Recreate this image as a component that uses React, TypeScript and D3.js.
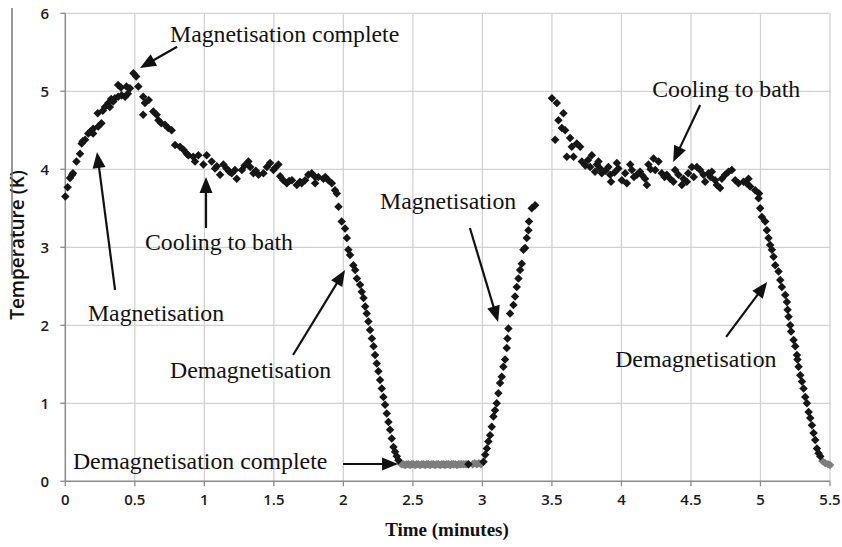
import React from "react";
import * as d3 from "d3";

const W = 842;
const H = 547;

// Time (minutes), Temperature (K)
const magUp: [number, number][] = [
  [0, 3.65], [0.017, 3.77], [0.034, 3.89], [0.05, 3.93], [0.055, 3.95], [0.08, 4.1], [0.106, 4.2],
  [0.118, 4.33], [0.125, 4.36], [0.142, 4.38], [0.165, 4.46], [0.18, 4.48], [0.2, 4.46], [0.2, 4.52],
  [0.233, 4.72], [0.237, 4.55], [0.26, 4.59], [0.27, 4.75], [0.285, 4.8], [0.31, 4.85], [0.32, 4.8],
  [0.33, 4.9], [0.345, 4.87], [0.357, 4.91], [0.38, 4.93], [0.38, 5.08], [0.4, 5.05], [0.405, 4.95],
  [0.43, 4.93], [0.44, 5.06], [0.45, 4.97], [0.465, 5.04], [0.49, 5.23], [0.51, 5.19], [0.525, 5.06],
];

const coolA: [number, number][] = [
  [0.56, 4.93], [0.573, 4.85], [0.56, 4.7], [0.6, 4.89], [0.633, 4.74], [0.657, 4.7], [0.67, 4.63],
  [0.69, 4.59], [0.717, 4.57], [0.74, 4.53], [0.765, 4.5], [0.79, 4.31], [0.825, 4.29], [0.85, 4.25],
  [0.873, 4.2], [0.885, 4.18], [0.92, 4.16], [0.933, 4.1], [0.957, 4.18], [0.993, 4.06], [1.017, 4.18],
  [1.053, 4.1], [1.077, 4.01], [1.09, 4.04], [1.113, 3.93], [1.137, 4.06], [1.16, 4.01], [1.18, 3.97],
  [1.197, 3.95], [1.22, 3.99], [1.233, 3.88], [1.27, 3.99], [1.29, 4.05], [1.317, 4.1], [1.33, 4.03],
  [1.353, 3.95], [1.37, 3.98], [1.39, 3.93], [1.425, 3.95], [1.45, 4.03], [1.473, 4.08], [1.497, 3.99],
  [1.51, 4.02], [1.533, 4.06], [1.545, 3.91], [1.568, 3.86], [1.593, 3.82], [1.61, 3.85], [1.63, 3.86],
  [1.665, 3.8], [1.688, 3.84], [1.7, 3.82], [1.725, 3.86], [1.748, 3.93], [1.772, 3.95], [1.797, 3.9],
  [1.797, 3.82], [1.82, 3.9], [1.856, 3.88], [1.87, 3.9], [1.892, 3.86], [1.917, 3.82], [1.94, 3.73],
];

const demagA: [number, number][] = [
  [1.953, 3.69], [1.965, 3.52], [1.988, 3.33], [2.012, 3.24], [2.025, 3.12], [2.036, 2.97], [2.048, 2.9],
  [2.072, 2.77], [2.085, 2.71], [2.097, 2.6], [2.12, 2.52], [2.132, 2.43], [2.145, 2.35], [2.157, 2.24],
  [2.168, 2.15], [2.18, 2.05], [2.192, 1.94], [2.205, 1.83], [2.217, 1.73], [2.228, 1.62], [2.24, 1.51],
  [2.252, 1.41], [2.264, 1.3], [2.276, 1.19], [2.288, 1.08], [2.3, 0.98], [2.312, 0.87], [2.324, 0.76],
  [2.336, 0.66], [2.348, 0.55], [2.36, 0.44], [2.372, 0.38], [2.384, 0.32], [2.396, 0.27],
];

const flatA: [number, number][] = [
  [2.41, 0.23], [2.42, 0.22], [2.432, 0.22], [2.444, 0.21], [2.456, 0.22], [2.468, 0.22], [2.48, 0.21],
  [2.492, 0.22], [2.504, 0.22], [2.516, 0.21], [2.528, 0.22], [2.54, 0.22], [2.552, 0.21], [2.564, 0.22],
  [2.576, 0.22], [2.588, 0.21], [2.6, 0.22], [2.612, 0.22], [2.624, 0.21], [2.636, 0.22], [2.648, 0.22],
  [2.66, 0.21], [2.672, 0.22], [2.684, 0.22], [2.696, 0.21], [2.708, 0.22], [2.72, 0.22], [2.732, 0.21],
  [2.744, 0.22], [2.756, 0.22], [2.768, 0.21], [2.78, 0.22], [2.792, 0.22], [2.804, 0.22], [2.816, 0.21],
  [2.828, 0.22], [2.84, 0.22], [2.852, 0.22], [2.864, 0.22], [2.876, 0.22], [2.888, 0.22],
  [2.93, 0.22], [2.945, 0.23], [2.96, 0.22], [2.975, 0.23], [2.99, 0.22],
];

const flatBlack: [number, number][] = [[2.9, 0.22]];

const magB: [number, number][] = [
  [3.008, 0.25], [3.02, 0.34], [3.032, 0.42], [3.043, 0.51], [3.055, 0.59], [3.067, 0.7], [3.079, 0.83],
  [3.091, 0.91], [3.103, 1.0], [3.115, 1.13], [3.127, 1.26], [3.139, 1.34], [3.151, 1.47], [3.163, 1.56],
  [3.175, 1.71], [3.18, 1.83], [3.187, 1.96], [3.199, 2.15], [3.223, 2.26], [3.235, 2.37], [3.247, 2.49],
  [3.259, 2.6], [3.271, 2.71], [3.283, 2.79], [3.295, 2.97], [3.307, 2.99], [3.319, 3.12], [3.331, 3.22],
  [3.335, 3.33], [3.355, 3.5], [3.379, 3.54],
];

const coolB: [number, number][] = [
  [3.5, 4.91], [3.523, 4.38], [3.535, 4.85], [3.547, 4.63], [3.571, 4.53], [3.583, 4.72], [3.595, 4.5],
  [3.607, 4.16], [3.631, 4.4], [3.643, 4.29], [3.655, 4.16], [3.679, 4.33], [3.703, 4.29], [3.715, 4.1],
  [3.74, 4.05], [3.76, 4.12], [3.775, 4.03], [3.787, 4.18], [3.81, 3.97], [3.823, 4.06], [3.835, 4.1],
  [3.847, 4.01], [3.859, 3.95], [3.885, 3.98], [3.906, 4.03], [3.919, 3.93], [3.925, 3.84], [3.95, 3.96],
  [3.967, 4.08], [3.978, 4.01], [4.003, 3.86], [4.027, 3.95], [4.039, 3.82], [4.063, 4.06], [4.075, 3.99],
  [4.09, 3.9], [4.111, 3.93], [4.134, 3.97], [4.15, 3.92], [4.17, 3.88], [4.183, 3.8], [4.194, 4.06],
  [4.21, 4.0], [4.231, 4.14], [4.243, 3.99], [4.267, 4.1], [4.29, 3.95], [4.31, 3.9], [4.326, 3.93],
  [4.35, 3.88], [4.374, 3.84], [4.386, 3.99], [4.41, 3.93], [4.434, 3.8], [4.446, 3.88], [4.47, 3.84],
  [4.48, 3.95], [4.506, 4.03], [4.52, 3.9], [4.542, 4.03], [4.566, 3.99], [4.59, 3.93], [4.602, 3.84],
  [4.626, 3.95], [4.64, 3.9], [4.65, 3.97], [4.674, 3.86], [4.686, 3.8], [4.71, 3.76], [4.722, 3.88],
  [4.746, 3.93], [4.77, 3.97], [4.794, 3.99], [4.818, 3.86], [4.842, 3.82], [4.878, 3.84], [4.9, 3.82],
  [4.914, 3.88], [4.926, 3.78],
];

const demagB: [number, number][] = [
  [4.962, 3.73], [4.986, 3.63], [4.99, 3.69], [4.998, 3.5], [5.01, 3.39], [5.034, 3.33], [5.046, 3.22],
  [5.058, 3.12], [5.07, 3.03], [5.082, 2.97], [5.094, 2.88], [5.106, 2.77], [5.13, 2.69], [5.142, 2.58],
  [5.154, 2.49], [5.178, 2.39], [5.19, 2.3], [5.195, 2.2], [5.202, 2.11], [5.214, 2.0], [5.22, 1.92],
  [5.238, 1.81], [5.25, 1.73], [5.262, 1.62], [5.266, 1.56], [5.274, 1.47], [5.286, 1.36], [5.298, 1.28],
  [5.31, 1.19], [5.322, 1.08], [5.334, 1.0], [5.346, 0.89], [5.358, 0.81], [5.37, 0.72], [5.382, 0.62],
  [5.394, 0.53], [5.406, 0.42], [5.418, 0.36], [5.43, 0.32], [5.445, 0.26], [5.466, 0.23], [5.485, 0.22],
  [5.5, 0.21],
];

const xTicks = [0, 0.5, 1, 1.5, 2, 2.5, 3, 3.5, 4, 4.5, 5, 5.5];
const xTickLabels = ["0", "0.5", "1", "1.5", "2", "2.5", "3", "3.5", "4", "4.5", "5", "5.5"];
const yTicks = [0, 1, 2, 3, 4, 5, 6];
const yTickLabels = ["0", "1", "2", "3", "4", "5", "6"];

// annotation label [t, T], arrow start [t, T], arrow tip [t, T]
const annotationTexts = [
  "Magnetisation complete",
  "Magnetisation",
  "Cooling to bath",
  "Demagnetisation",
  "Demagnetisation complete",
  "Magnetisation",
  "Cooling to bath",
  "Demagnetisation",
];
const annotationLabelPos: [number, number][] = [
  [0.753, 5.632], [0.163, 2.055], [0.573, 2.965], [0.753, 1.324],
  [0.055, 0.158], [2.264, 3.491], [4.221, 4.926], [3.955, 1.465],
];
const arrowFrom: [number, number][] = [
  [0.804, 5.571], [0.358, 2.453], [1.012, 3.248], [1.638, 1.619],
  [1.998, 0.222], [2.91, 3.247], [4.566, 4.824], [4.753, 1.851],
];
const arrowTo: [number, number][] = [
  [0.537, 5.3], [0.228, 4.222], [1.012, 3.901], [2.012, 2.709],
  [2.393, 0.222], [3.113, 2.042], [4.372, 4.093], [5.048, 2.556],
];

export default function App() {
  const x = d3.scaleLinear().domain([0, 5.5]).range([65.3, 830]);
  const y = d3.scaleLinear().domain([0, 6]).range([481.3, 13.3]);
  const diamond = d3.symbol().type(d3.symbolDiamond2).size(46)()!;

  const blackPts = [...magUp, ...coolA, ...demagA, ...flatBlack, ...magB, ...coolB, ...demagB.filter((d) => d[1] >= 0.3)];
  const grayPts = [...flatA, ...demagB.filter((d) => d[1] < 0.3)];

  const arrowHead = (from: [number, number], to: [number, number]) => {
    const x1 = x(from[0]), y1 = y(from[1]), x2 = x(to[0]), y2 = y(to[1]);
    const ang = Math.atan2(y2 - y1, x2 - x1);
    const L = 16, hw = 6.5;
    const bx = x2 - L * Math.cos(ang), by = y2 - L * Math.sin(ang);
    const px = -Math.sin(ang) * hw, py = Math.cos(ang) * hw;
    return {
      line: [x1, y1, bx + 2 * Math.cos(ang), by + 2 * Math.sin(ang)],
      head: `M${x2},${y2}L${bx + px},${by + py}L${bx - px},${by - py}Z`,
    };
  };

  const x0 = x(0), x1 = x(5.5), y0 = y(0), y1 = y(6);

  return (
    <svg width={W} height={H} style={{ position: "absolute", left: 0, top: 0, background: "#fff" }}>
      <rect width={W} height={H} fill="#fff" />
      {/* gridlines */}
      {xTicks.filter((t) => t > 0).map((t) => (
        <line key={"gx" + t} x1={x(t)} x2={x(t)} y1={y0} y2={y1} stroke="#d2d2d2" strokeWidth={1.3} />
      ))}
      {yTicks.filter((t) => t > 0).map((t) => (
        <line key={"gy" + t} x1={x0} x2={x1} y1={y(t)} y2={y(t)} stroke="#d2d2d2" strokeWidth={1.3} />
      ))}
      {/* axes */}
      <line x1={x0} x2={x0} y1={y0} y2={y1} stroke="#8a8a8a" strokeWidth={1.5} />
      <line x1={x0} x2={x1} y1={y0} y2={y0} stroke="#8a8a8a" strokeWidth={1.5} />
      {xTicks.map((t) => (
        <line key={"tx" + t} x1={x(t)} x2={x(t)} y1={y0} y2={y0 + 5} stroke="#8a8a8a" strokeWidth={1.3} />
      ))}
      {yTicks.map((t) => (
        <line key={"ty" + t} x1={x0 - 5} x2={x0} y1={y(t)} y2={y(t)} stroke="#8a8a8a" strokeWidth={1.3} />
      ))}
      {xTicks.map((t, i) => (
        <text key={"lx" + t} x={x(t)} y={y0 + 24} textAnchor="middle" fontFamily="'Open Sans', sans-serif" fontWeight={600} fontSize={15} fill="#1a1a1a">
          {xTickLabels[i]}
        </text>
      ))}
      {yTicks.map((t, i) => (
        <text key={"ly" + t} x={49} y={y(t) + 5.5} textAnchor="end" fontFamily="'Open Sans', sans-serif" fontWeight={600} fontSize={15} fill="#1a1a1a">
          {yTickLabels[i]}
        </text>
      ))}
      {/* axis titles */}
      <text x={447} y={536} textAnchor="middle" fontFamily="'Liberation Serif', serif" fontWeight="bold" fontSize={19} fill="#111">
        Time (minutes)
      </text>
      <text transform="translate(24,245) rotate(-90)" textAnchor="middle" fontFamily="'Open Sans', sans-serif" fontWeight={600} fontSize={19} fill="#111">
        Temperature (K)
      </text>
      <line x1={12} x2={12} y1={8} y2={275} stroke="#777" strokeWidth={1.5} />
      {/* markers */}
      {grayPts.map((d, i) => (
        <path key={"g" + i} d={diamond} transform={`translate(${x(d[0])},${y(d[1])})`} fill="#7d7d7d" />
      ))}
      {blackPts.map((d, i) => (
        <path key={"b" + i} d={diamond} transform={`translate(${x(d[0])},${y(d[1])})`} fill="#161616" />
      ))}
      {/* annotations */}
      {annotationTexts.map((s, i) => {
        const a = arrowHead(arrowFrom[i], arrowTo[i]);
        return (
          <g key={"a" + i}>
            <text x={x(annotationLabelPos[i][0])} y={y(annotationLabelPos[i][1])} fontFamily="'Liberation Serif', 'Times New Roman', serif" fontSize={23.8} fill="#111">
              {s}
            </text>
            <line x1={a.line[0]} y1={a.line[1]} x2={a.line[2]} y2={a.line[3]} stroke="#111" strokeWidth={2.2} />
            <path d={a.head} fill="#111" />
          </g>
        );
      })}
    </svg>
  );
}
